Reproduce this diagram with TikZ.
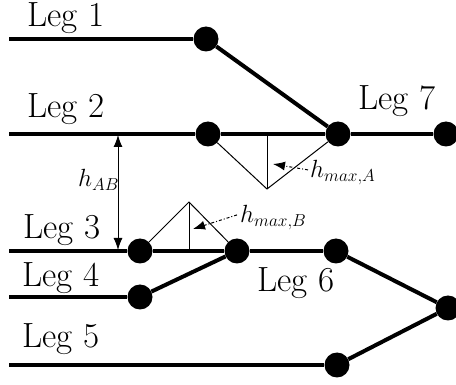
\documentclass[tikz,border=0pt]{standalone}
\usetikzlibrary{arrows.meta}

\tikzset{
  junction/.style={circle, fill=black, inner sep=0pt, minimum size=25pt},
  leg/.style={line width=4pt},
  guide/.style={line width=1pt},
  legname/.style={anchor=base west, inner sep=0pt, font=\fontsize{35}{42}\selectfont},
  height/.style={anchor=base west, inner sep=0pt, font=\fontsize{23}{28}\selectfont},
}

\begin{document}
\begin{tikzpicture}[x=1pt, y=-1pt]

      \useasboundingbox (0,0) rectangle (456,385);

      % where the legs come in
      \coordinate (s1) at (9,39);
      \coordinate (s2) at (9,134);
      \coordinate (s3) at (9,251);
      \coordinate (s4) at (9,297);
      \coordinate (s5) at (9,365);

      % junctions
      \begin{scope}[every node/.style={junction}]
        \node (1)  at (206,39)  {};
        \node (2)  at (208,134) {};
        \node (3)  at (338,134) {};
        \node (4)  at (446,134) {};
        \node (5)  at (140,251) {};
        \node (6)  at (237,251) {};
        \node (7)  at (336,251) {};
        \node (8)  at (140,297) {};
        \node (9)  at (337,365) {};
        \node (10) at (448,308) {};
      \end{scope}

      % legs
      \begin{scope}[leg]
        \draw (s1) -- (1);
        \draw (1) -- (3);
        \draw (s2) -- (2);
        \draw (2) -- (3);
        \draw (3) -- (4);
        \draw (s3) -- (5);
        \draw (5) -- (6);
        \draw (6) -- (7);
        \draw (s4) -- (8);
        \draw (8) -- (6);
        \draw (s5) -- (9);
        \draw (9) -- (10);
        \draw (7) -- (10);
      \end{scope}

      % triangles for the heights
      \coordinate (pA) at (267,189);
      \coordinate (mA) at (267,134);
      \coordinate (pB) at (189,202);
      \coordinate (mB) at (189,251);
      \draw[guide] (2) -- (pA) -- (3);
      \draw[guide] (mA) -- (pA);
      \draw[guide] (5) -- (pB) -- (6);
      \draw[guide] (mB) -- (pB);

      % distance between the two levels
      \coordinate (uAB) at (118,135);
      \coordinate (dAB) at (118,250);
      \draw[guide, {Latex[length=12pt,width=9pt]}-{Latex[length=12pt,width=9pt]}] (uAB) -- (dAB);

      % labels
      \node[legname] (l1) at (27,27)  {Leg 1};
      \node[legname] (l2) at (27,118) {Leg 2};
      \node[legname] (l7) at (358,110) {Leg 7};
      \node[legname] (l3) at (23,239) {Leg 3};
      \node[legname] (l4) at (22,287) {Leg 4};
      \node[legname] (l6) at (257,292) {Leg 6};
      \node[legname] (l5) at (22,348) {Leg 5};

      \node[height] (hAB) at (78,187) {$h_{AB}$};
      \node[height] (hA)  at (310,178) {$h_{max,A}$};
      \node[height] (hB)  at (240,223) {$h_{max,B}$};

      \coordinate (tA) at (273,164);
      \coordinate (tB) at (193,229);
      \draw[guide, dash dot, -{Latex[length=12pt,width=9pt]}] (hA.west) ++(-2,-3) -- (tA);
      \draw[guide, dash dot, -{Latex[length=12pt,width=9pt]}] (hB.west) ++(-3,-3) -- (tB);

    \end{tikzpicture}
\end{document}
